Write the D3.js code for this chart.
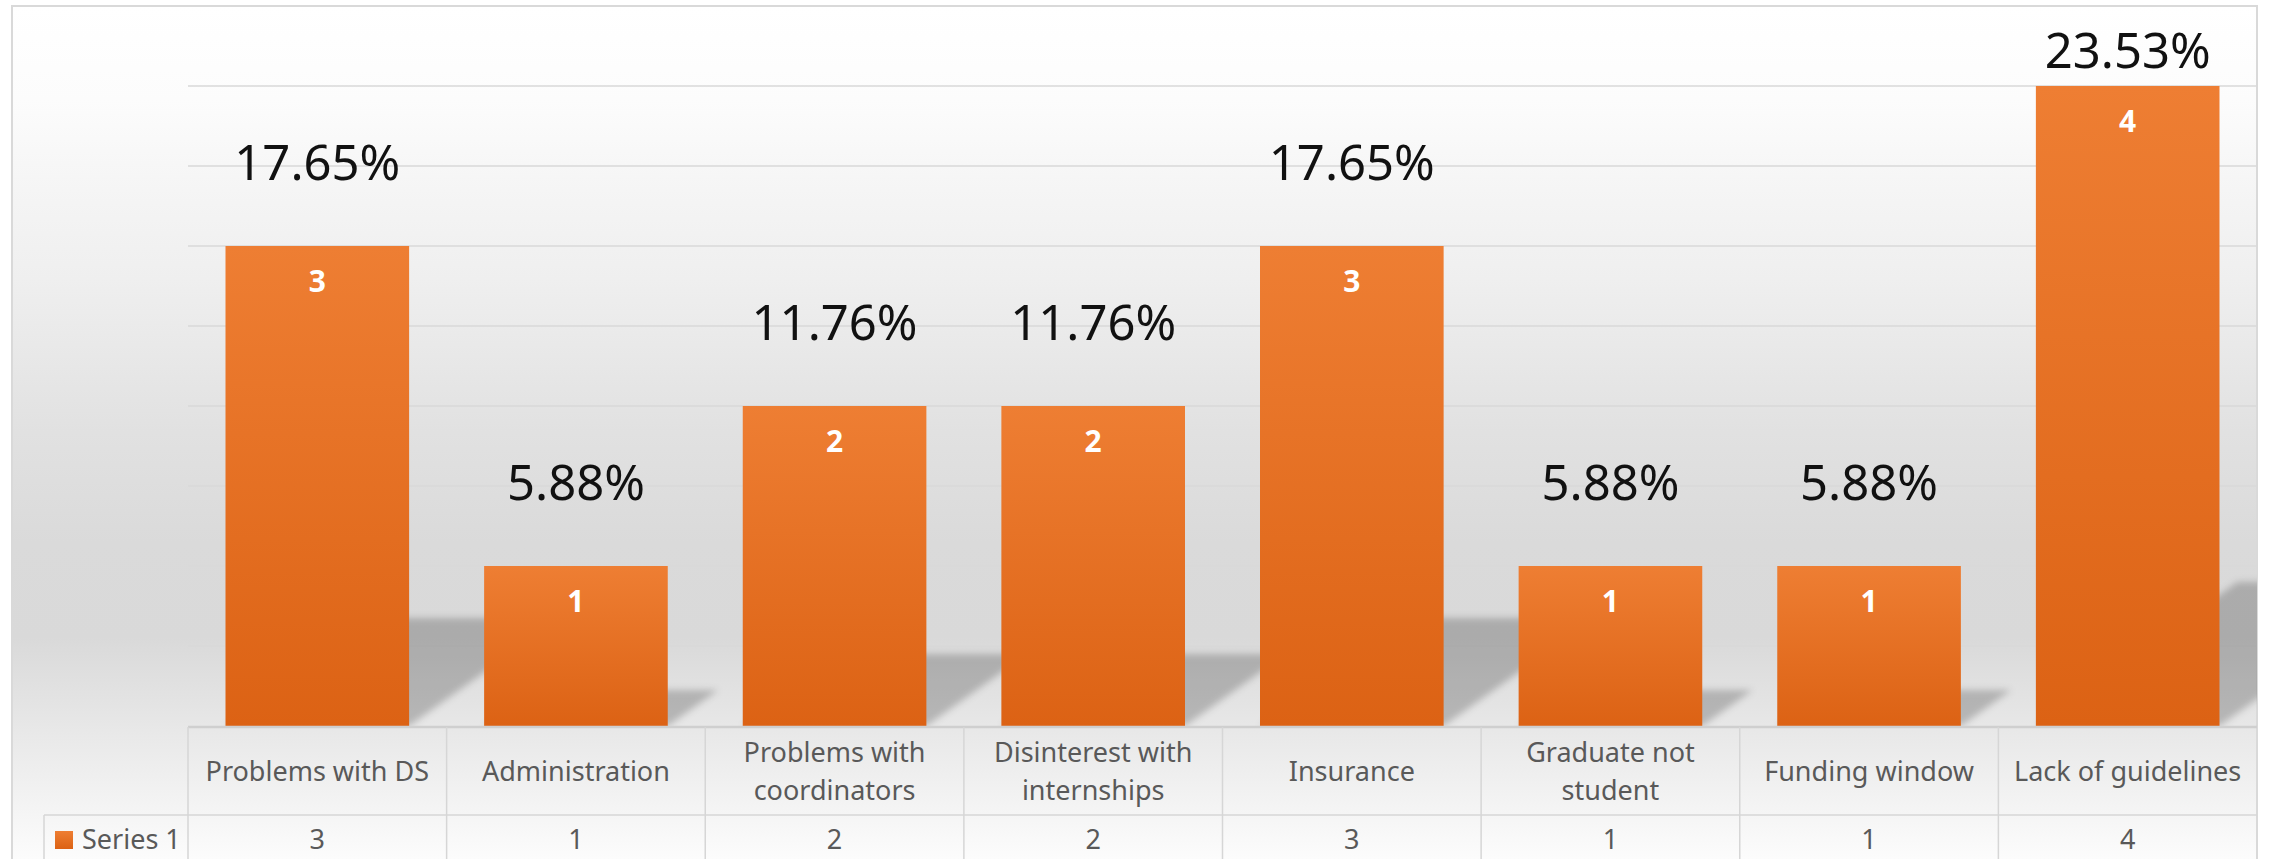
<!DOCTYPE html>
<html>
<head>
<meta charset="utf-8">
<script src="https://cdn.jsdelivr.net/npm/d3@7"></script>
<style>
  body { margin: 0; background: #fff; }
  svg { display: block; font-family: "Noto Sans", "Open Sans", sans-serif; }
</style>
</head>
<body>
<svg id="chart"></svg>
<script>
// Chart data
const categories = [
    "Problems with DS",
    "Administration",
    "Problems with coordinators",
    "Disinterest with internships",
    "Insurance",
    "Graduate not student",
    "Funding window",
    "Lack of guidelines"
];
const counts = [3, 1, 2, 2, 3, 1, 1, 4];
const shares = ["17.65%", "5.88%", "11.76%", "11.76%", "17.65%", "5.88%", "5.88%", "23.53%"];
const seriesName = "Series 1";
const gridTicks = [0.5, 1, 1.5, 2, 2.5, 3, 3.5, 4];

// Layout
const width = 2269;
const height = 859;
const frame = { left: 12, top: 6, right: 2257 };
const plot = { left: 188, right: 2257, top: 86, bottom: 726 };
const catRowBottom = 815;
const seriesCellLeft = 44;

const svg = d3.select("#chart")
    .attr("width", width)
    .attr("height", height)
    .attr("viewBox", [0, 0, width, height]);

const defs = svg.append("defs");

// Background gradient: white at top, grey in the middle, light again at the bottom
const bg = defs.append("linearGradient")
    .attr("id", "bg")
    .attr("gradientUnits", "userSpaceOnUse")
    .attr("x1", 0).attr("y1", frame.top)
    .attr("x2", 0).attr("y2", height);
[
    [0, "#ffffff"], [0.11, "#fcfcfc"], [0.23, "#f4f4f4"], [0.32, "#efefef"],
    [0.5, "#e1e1e1"], [0.63, "#dadada"], [0.74, "#d9d9d9"], [0.85, "#e8e8e8"], [1, "#fcfcfc"]
].forEach(([o, c]) => bg.append("stop").attr("offset", o).attr("stop-color", c));

// Bar fill
const barGrad = defs.append("linearGradient")
    .attr("id", "barGrad")
    .attr("x1", 0).attr("y1", 0).attr("x2", 0).attr("y2", 1);
barGrad.append("stop").attr("offset", 0).attr("stop-color", "#ee7e33");
barGrad.append("stop").attr("offset", 1).attr("stop-color", "#dc6214");

// Soft shadow
defs.append("filter")
    .attr("id", "soft")
    .attr("x", "-20%").attr("y", "-20%")
    .attr("width", "140%").attr("height", "140%")
    .append("feGaussianBlur")
    .attr("stdDeviation", 3.5);

defs.append("clipPath")
    .attr("id", "plotClip")
    .append("rect")
    .attr("x", plot.left)
    .attr("y", 0)
    .attr("width", plot.right - plot.left)
    .attr("height", plot.bottom);

// Chart area
svg.append("rect")
    .attr("x", frame.left)
    .attr("y", frame.top)
    .attr("width", frame.right - frame.left)
    .attr("height", height + 20)
    .attr("fill", "url(#bg)")
    .attr("stroke", "#d9d9d9")
    .attr("stroke-width", 2);

// Scales
const x = d3.scaleBand()
    .domain(categories)
    .range([plot.left, plot.right])
    .paddingInner(0.29)
    .paddingOuter(0.145);

const y = d3.scaleLinear()
    .domain([0, 4])
    .range([plot.bottom, plot.top]);

const cellLeft = c => x(c) - (x.step() - x.bandwidth()) / 2;

// Gridlines
svg.append("g")
    .selectAll("line")
    .data(gridTicks)
    .join("line")
    .attr("x1", plot.left)
    .attr("x2", plot.right)
    .attr("y1", d => y(d))
    .attr("y2", d => y(d))
    .attr("stroke", "#d9d9d9")
    .attr("stroke-width", 1.5);

const rows = categories.map((c, i) => ({ cat: c, value: counts[i], share: shares[i] }));

// Perspective shadows behind the bars
svg.append("g")
    .attr("clip-path", "url(#plotClip)")
    .selectAll("path")
    .data(rows)
    .join("path")
    .attr("d", d => {
        const x0 = x(d.cat), x1 = x0 + x.bandwidth();
        const h = (y(0) - y(d.value)) * 0.225;
        const dx = h * 1.4;
        return `M${x0},${y(0)}L${x1},${y(0)}L${x1 + dx},${y(0) - h}L${x0 + dx},${y(0) - h}Z`;
    })
    .attr("fill", "rgba(0,0,0,0.21)")
    .attr("filter", "url(#soft)");

// Bars
svg.append("g")
    .selectAll("rect")
    .data(rows)
    .join("rect")
    .attr("x", d => x(d.cat))
    .attr("y", d => y(d.value))
    .attr("width", x.bandwidth())
    .attr("height", d => y(0) - y(d.value))
    .attr("fill", "url(#barGrad)");

// Value labels inside bars
svg.append("g")
    .selectAll("text")
    .data(rows)
    .join("text")
    .attr("x", d => x(d.cat) + x.bandwidth() / 2)
    .attr("y", d => y(d.value) + 46)
    .attr("text-anchor", "middle")
    .attr("fill", "#fff")
    .attr("font-size", "30px")
    .attr("font-weight", "bold")
    .text(d => d.value);

// Percentage labels above bars
svg.append("g")
    .selectAll("text")
    .data(rows)
    .join("text")
    .attr("x", d => x(d.cat) + x.bandwidth() / 2)
    .attr("y", d => Math.max(y(d.value) - 66, 68))
    .attr("text-anchor", "middle")
    .attr("fill", "#111")
    .attr("font-size", "49px")
    .text(d => d.share);

// Data table under the plot
const table = svg.append("g")
    .attr("stroke", "#d6d6d6")
    .attr("stroke-width", 1.5);

table.append("line")
    .attr("x1", plot.left).attr("x2", plot.right)
    .attr("y1", plot.bottom + 1).attr("y2", plot.bottom + 1)
    .attr("stroke", "#cfcfcf")
    .attr("stroke-width", 2.5);

table.append("line")
    .attr("x1", seriesCellLeft).attr("x2", plot.right)
    .attr("y1", catRowBottom).attr("y2", catRowBottom);

table.append("line")
    .attr("x1", seriesCellLeft).attr("x2", seriesCellLeft)
    .attr("y1", catRowBottom).attr("y2", height + 10);

table.selectAll("line.v")
    .data(categories)
    .join("line")
    .attr("class", "v")
    .attr("x1", d => cellLeft(d))
    .attr("x2", d => cellLeft(d))
    .attr("y1", plot.bottom + 1)
    .attr("y2", height + 10);

// Category labels, wrapped to the cell width
const catText = svg.append("g")
    .selectAll("text")
    .data(categories)
    .join("text")
    .attr("text-anchor", "middle")
    .attr("fill", "#595959")
    .attr("font-size", "27px");

catText.each(function(d) {
    const t = d3.select(this);
    const cx = x(d) + x.bandwidth() / 2;
    const probe = t.append("tspan");
    const lines = [];
    let line = [];
    d.split(" ").forEach(w => {
        line.push(w);
        probe.text(line.join(" "));
        if (probe.node().getComputedTextLength() > 240 && line.length > 1) {
            line.pop();
            lines.push(line.join(" "));
            line = [w];
        }
    });
    lines.push(line.join(" "));
    probe.remove();

    const mid = (plot.bottom + catRowBottom) / 2 + 10;
    lines.forEach((l, i) => {
        t.append("tspan")
            .attr("x", cx)
            .attr("y", mid + (i - (lines.length - 1) / 2) * 38)
            .text(l);
    });
});

// Series row
svg.append("rect")
    .attr("x", 55)
    .attr("y", 831)
    .attr("width", 18)
    .attr("height", 18)
    .attr("fill", "url(#barGrad)");

svg.append("text")
    .attr("x", 82)
    .attr("y", 849)
    .attr("fill", "#595959")
    .attr("font-size", "27px")
    .text(seriesName);

svg.append("g")
    .selectAll("text")
    .data(rows)
    .join("text")
    .attr("x", d => x(d.cat) + x.bandwidth() / 2)
    .attr("y", 849)
    .attr("text-anchor", "middle")
    .attr("fill", "#595959")
    .attr("font-size", "27px")
    .text(d => d.value);
</script>
</body>
</html>
